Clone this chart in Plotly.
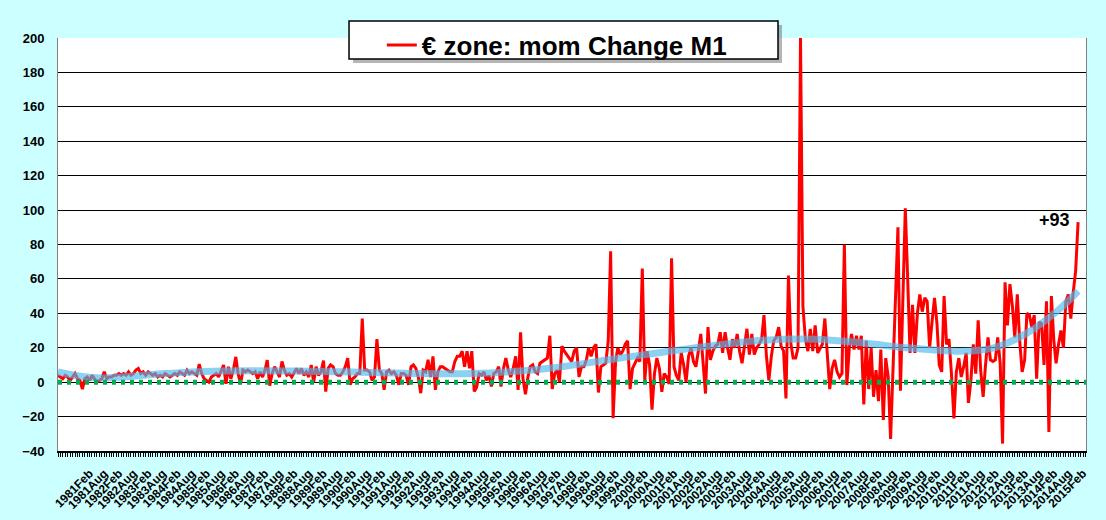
import pandas as pd
import plotly.graph_objects as go

# Data: month-on-month change of euro zone M1, monthly, Jan 1980 - Dec 2014
m1_change = [
    4, 3, 2, 4, 3, 1, 3, 5, 2, 1, -4, 2,                      # 1980
    3, 1, 4, 2, 0, 1, 2, 6, 2, 3, 3, 4,                       # 1981
    4, 5, 4, 5, 4, 6, 4, 5, 7, 8, 5, 6,                       # 1982
    4, 6, 5, 4, 5, 3, 4, 3, 5, 4, 3, 4,                       # 1983
    5, 4, 6, 5, 4, 7, 5, 6, 5, 4, 10.5, 5,                    # 1984
    2, 1, 0, 3, 4, 5, 3, 6, 10, -1, 9, 2,                     # 1985
    7, 14.7, 5, -1, 7, 6, 7, 6, 5, 6, 2, 6,                   # 1986
    3, 7, 12.8, -2, 5, 9, 6, 3, 12, 7, 4, 5,                  # 1987
    3, 6, 8, 5, 8, 4, 6, 3, 10, 0, 9, 4,                      # 1988
    6, 12.5, -5.5, 8, 10, 9, 5, 4, 4, 6, 9, 14,               # 1989
    -1.5, 2, 3, 5, 5, 37, 7, 7, 6, 1, 3, 25,                  # 1990
    7, 5, -4.5, 6, 7, 5, 6, 4, -1.5, 5, 5, 4,                 # 1991
    -1.5, 9, 10, 8, 3, -6.4, 7, 6, 13, 3, 15, -4.5,           # 1992
    6, 9, 9, 8, 7, 6, 6, 12, 15, 15, 18, 9,                   # 1993
    18, 8, 18, -5.4, -3, 5, 4, 6, 1, 4, -2.5, 5,              # 1994
    6, 9, -2.5, 8, 14, 7, 3, 8, 15, -4.5, 29, 2,              # 1995
    -7, 3, 9, 10, 6, 5, 11, 12, 13, 14, 27, -4,               # 1996
    5, 7, 0, 21, 18, 16, 14, 12, 18, 20, 3, 9,                # 1997
    9, 13, 20, 15, 20, 22, -6, 9, 10, 11, 24, 76,             # 1998
    -21, 12, 20, 16, 18, 22, 24, -4, 8, 11, 14, 12,           # 1999
    66, 1, 18, 10, -16, 5, 14, 8, -5.6, 5, 3, -1,             # 2000
    72, 9, 4, 1, 17, 10, 0, 15, 20, 12, 9, 18,                # 2001
    28, 10, -6.6, 32, 13, 18, 21, 22, 29, 17, 29, 20,         # 2002
    13, 25, 20, 28, 18, 11, 20, 31, 16, 28, 16, 20,           # 2003
    22, 25, 39, 15, 1, 15, 24, 26, 32, 21, 18, -9.5,          # 2004
    62, 22, 14, 14, 20, 200, 44, 25, 18, 31, 18, 33,          # 2005
    17, 20, 22, 37, 18, -4, 8, 13, 6, 3, 5, 80,               # 2006
    -1.7, 20, 28, 19, 27, 19, 27, -13, 24, -4, 20, -8.5,      # 2007
    7, -11, 19, -22, 14, 3, -33, 5, 45, 90, -5, 48,           # 2008
    101, 58, 17, 45, 17, 40, 51, 41, 49, 47, 20, 35,          # 2009
    49, 34, 10, 6, 50, 22, 25, 5, -21, 6, 14, 3,              # 2010
    9, 17, -12, 1, 22, 5, 36, 7, -8.5, 10, 26, 13,            # 2011
    12, 13, 26, 11, -35.7, 58, 33, 57, 44, 26, 51, 24,        # 2012
    6, 13, 40, 39, 32, 39, 2, 35, 34, 10, 47, -29,            # 2013
    50, 24, 11, 22, 30, 20, 47, 51, 37, 52, 65, 93,           # 2014
]
months = pd.date_range("1980-01-01", periods=len(m1_change), freq="MS")

# smooth trend line (read at a few points)
trend_dates = ["1980-01-01", "1981-05-01", "1983-09-01", "1985-05-01", "1988-04-01",
               "1989-09-01", "1994-03-01", "1996-10-01", "1999-04-01", "2002-07-01",
               "2004-03-01", "2005-12-01", "2007-08-01", "2009-03-01", "2010-11-01",
               "2012-01-01", "2013-03-01", "2014-04-01", "2014-12-01"]
trend_values = [6, 2.5, 5, 6.4, 6.5, 6, 5, 8, 14, 21.5,
                24.4, 25, 22.7, 19.8, 18, 19.8, 28.5, 42, 53]

# x tick labels every 6 months
tick_dates = pd.date_range("1981-02-01", "2015-02-01", freq="6MS")
tick_labels = [d.strftime("%Y%b") for d in tick_dates]

font_family = "Arial, Liberation Sans, sans-serif"

fig = go.Figure()

fig.add_trace(go.Scatter(x=months, y=m1_change, mode="lines",
                         name="€ zone: mom Change M1",
                         line=dict(color="#ff0000", width=3)))

fig.add_trace(go.Scatter(x=trend_dates, y=trend_values, mode="lines",
                         line=dict(color="rgba(80,185,235,0.65)", width=7, shape="spline"),
                         showlegend=False, hoverinfo="skip"))

# green dotted zero line
fig.add_shape(type="line", xref="paper", yref="y", x0=0, x1=1, y0=0, y1=0,
              line=dict(color="#00b050", width=5, dash="4px,5px"))

# legend box with shadow
fig.add_shape(type="rect", xref="paper", yref="paper",
              x0=0.2870, x1=0.7043, y0=0.9395, y1=1.0315,
              fillcolor="rgba(90,90,90,0.45)", line=dict(width=0), layer="above")
fig.add_shape(type="rect", xref="paper", yref="paper",
              x0=0.2831, x1=0.7004, y0=0.9492, y1=1.0412,
              fillcolor="white", line=dict(color="black", width=1.5), layer="above")

fig.add_annotation(x=months[-1], y=m1_change[-1], text="<b>+93</b>",
                   showarrow=False, xanchor="right", yanchor="middle", xshift=-6, yshift=2,
                   font=dict(family=font_family, size=18, color="black"))

fig.update_layout(
    width=1106, height=520,
    margin=dict(l=58, r=20, t=38, b=69, autoexpand=False),
    paper_bgcolor="#ccffff",
    plot_bgcolor="white",
    font=dict(family=font_family, color="black"),
    showlegend=True,
    legend=dict(x=0.315, y=1.040, xanchor="left", yanchor="top",
                bgcolor="rgba(0,0,0,0)", borderwidth=0,
                font=dict(family=font_family, size=26, color="black", weight="bold")),
    xaxis=dict(type="date", range=["1980-01-01", "2015-03-10"], automargin=False,
               tickmode="array", tickvals=tick_dates, ticktext=tick_labels,
               tickangle=-45, tickfont=dict(size=12, weight="bold"),
               ticks="outside", ticklen=4, tickcolor="black", ticklabelstandoff=5,
               minor=dict(ticks="outside", dtick="M1", tick0="1980-01-01",
                          ticklen=4, tickcolor="black", showgrid=False),
               showgrid=False, showline=True, linecolor="black", linewidth=1.5,
               zeroline=False),
    yaxis=dict(range=[-40, 200], dtick=20, tickfont=dict(size=13, weight="bold"),
               automargin=False,
               showgrid=True, gridcolor="black", gridwidth=1,
               zeroline=False, showline=True, linecolor="#808080", mirror=True,
               ticks="", ticklabelstandoff=10),
)

fig.write_html("out.html", config={"displayModeBar": False},
               post_script="document.body.style.margin = '0px';")
